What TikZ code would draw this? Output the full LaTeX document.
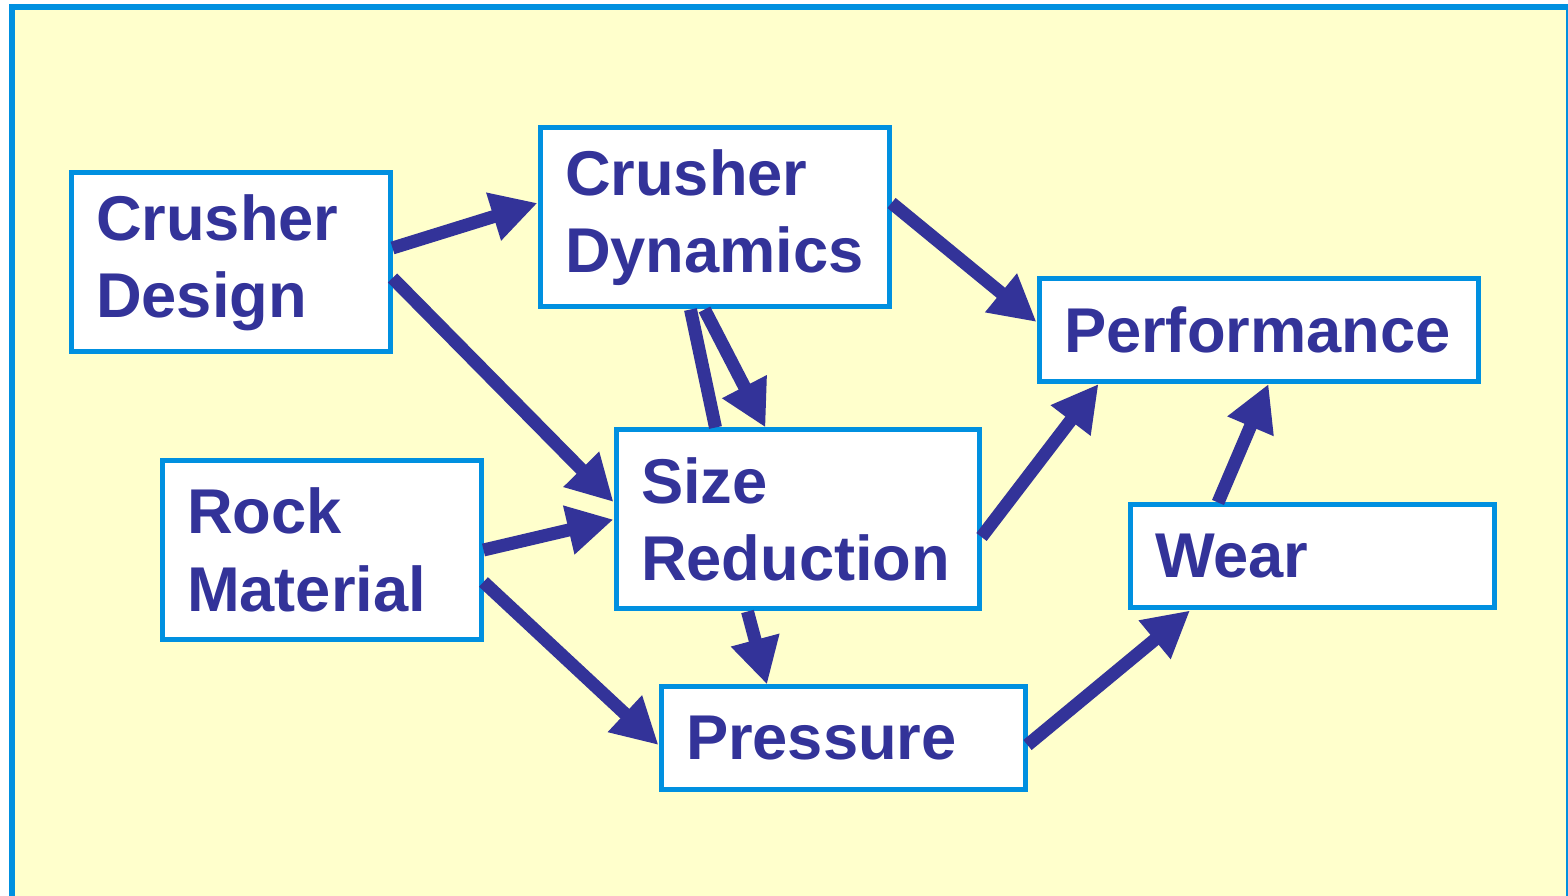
\documentclass[tikz,border=0pt]{standalone}
\usepackage{fontspec}
\setmainfont{Liberation Sans}
\usetikzlibrary{positioning,arrows.meta}

\definecolor{bgyellow}{HTML}{FFFFCC}
\definecolor{boxblue}{HTML}{0090E0}
\definecolor{arrowblue}{HTML}{333399}

\begin{document}
\begin{tikzpicture}[
	every node/.style={draw=boxblue,line width=0.05cm,fill=white,text=arrowblue,
		font=\fontsize{18}{22}\selectfont\bfseries,align=left,inner xsep=0.25cm},
	tallbox/.style={minimum height=1.79cm},
	flatbox/.style={minimum height=1.03cm},
	flow/.style={draw=arrowblue,line width=0.13cm,-{Triangle[length=0.46cm,width=0.47cm]}}
	]
	
	\useasboundingbox (0,0) rectangle (15.68,-8.96);
	\clip (0,0) rectangle (15.68,-8.96);
	
	% the frame
	\fill[white] (0,0) rectangle (15.68,-8.96);
	\draw[boxblue,fill=bgyellow,line width=0.06cm] (0.115,-0.07) rectangle (15.69,-9.3);
	
	% the boxes
	\node[tallbox,text width=2.69cm] (design) at (2.305,-2.625) {Crusher\\Design};
	\node[tallbox,text width=2.99cm] (dynamics) at (7.145,-2.175) {Crusher\\Dynamics};
	\node[flatbox,text width=3.89cm] (perf) at (12.585,-3.30) {Performance};
	\node[tallbox,text width=2.69cm] (rock) at (3.215,-5.50) {Rock\\Material};
	\node[tallbox,text width=3.13cm] (size) at (7.975,-5.195) {Size\\Reduction};
	\node[flatbox,text width=3.14cm] (wear) at (13.12,-5.565) {Wear};
	\node[flatbox,text width=3.14cm] (press) at (8.43,-7.385) {Pressure};
	
	% the arrows
	\draw[flow] ([yshift=0.145cm]design.east) -- ([yshift=0.145cm]dynamics.west);
	\draw[flow] ([yshift=-0.155cm]design.east) -- ([yshift=0.175cm]size.west);
	\draw[flow] ([yshift=0.145cm]dynamics.east) -- ([yshift=0.08cm]perf.west);
	\draw[flow,-] ([xshift=-0.24cm]dynamics.south) -- ([xshift=-0.82cm]size.north);
	\draw[flow] ([xshift=-0.10cm]dynamics.south) -- ([xshift=-0.32cm]size.north);
	\draw[flow] (rock.east) -- (size.west);
	\draw[flow] ([yshift=-0.32cm]rock.east) -- ([yshift=-0.065cm]press.west);
	\draw[flow] ([yshift=-0.175cm]size.east) -- ([xshift=-1.60cm]perf.south);
	\draw[flow] ([xshift=-0.50cm]size.south) -- ([xshift=-0.76cm]press.north);
	\draw[flow] ([yshift=-0.065cm]press.east) -- ([xshift=-1.22cm]wear.south);
	\draw[flow] ([xshift=-0.94cm]wear.north) -- ([xshift=0.10cm]perf.south);
\end{tikzpicture}
\end{document}
